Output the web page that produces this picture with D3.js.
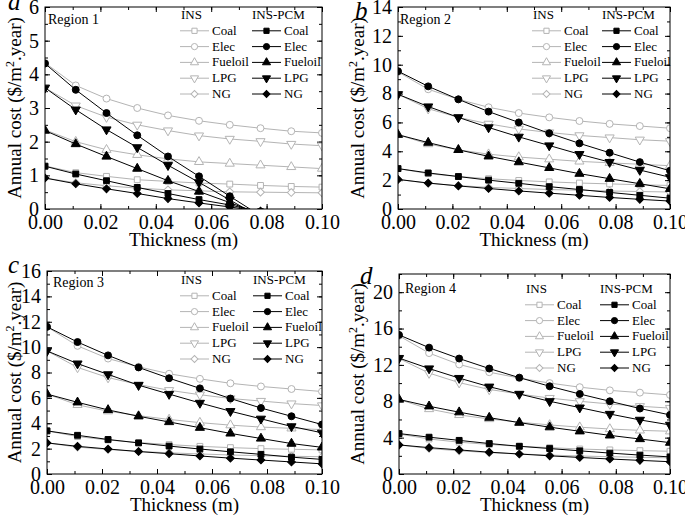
<!DOCTYPE html>
<html>
<head>
<meta charset="utf-8">
<script src="https://cdn.jsdelivr.net/npm/d3@7"></script>
<style>
body { margin: 0; background: #fff; }
text { font-family: "Liberation Serif", "Times New Roman", serif; }
</style>
</head>
<body>
<div id="chart"></div>
<script>
// thickness (m)
var xs = [0, 0.0111, 0.0222, 0.0333, 0.0444, 0.0556, 0.0667, 0.0778, 0.0889, 0.1];
var fuels = ["Coal", "Elec", "Fueloil", "LPG", "NG"];
var xTicks = [0, 0.02, 0.04, 0.06, 0.08, 0.10];

// each list is in the order of fuels: Coal, Elec, Fueloil, LPG, NG
var r1Ins = [
  [1.28, 1.08, 0.97, 0.87, 0.82, 0.77, 0.74, 0.70, 0.67, 0.65],
  [4.34, 3.67, 3.28, 3.00, 2.78, 2.62, 2.50, 2.40, 2.31, 2.26],
  [2.35, 2.00, 1.76, 1.61, 1.49, 1.40, 1.35, 1.30, 1.25, 1.20],
  [3.60, 3.07, 2.73, 2.50, 2.33, 2.18, 2.08, 2.01, 1.93, 1.88],
  [0.92, 0.78, 0.69, 0.62, 0.57, 0.54, 0.51, 0.50, 0.49, 0.48]
];
var r1Pcm = [
  [1.27, 1.04, 0.84, 0.64, 0.46, 0.28, 0.12, -0.08, -0.25, -0.42],
  [4.32, 3.54, 2.85, 2.19, 1.56, 0.97, 0.38, -0.20, -0.78, -1.35],
  [2.33, 1.93, 1.56, 1.20, 0.84, 0.52, 0.19, -0.15, -0.48, -0.80],
  [3.60, 2.95, 2.36, 1.83, 1.30, 0.79, 0.27, -0.25, -0.75, -1.25],
  [0.92, 0.75, 0.60, 0.46, 0.31, 0.18, 0.06, -0.06, -0.19, -0.32]
];
var r2Ins = [
  [2.80, 2.45, 2.25, 2.10, 1.98, 1.88, 1.80, 1.74, 1.68, 1.63],
  [9.50, 8.30, 7.60, 7.05, 6.65, 6.35, 6.10, 5.90, 5.75, 5.60],
  [5.15, 4.50, 4.10, 3.80, 3.60, 3.45, 3.30, 3.20, 3.10, 3.00],
  [7.95, 6.95, 6.35, 5.90, 5.55, 5.30, 5.10, 4.95, 4.80, 4.70],
  [2.05, 1.78, 1.62, 1.50, 1.42, 1.35, 1.30, 1.25, 1.21, 1.18]
];
var r2Pcm = [
  [2.80, 2.50, 2.25, 2.00, 1.78, 1.55, 1.35, 1.15, 0.95, 0.75],
  [9.55, 8.50, 7.60, 6.75, 6.00, 5.25, 4.55, 3.90, 3.25, 2.65],
  [5.15, 4.60, 4.10, 3.65, 3.25, 2.85, 2.45, 2.10, 1.75, 1.40],
  [7.95, 7.10, 6.35, 5.65, 5.00, 4.40, 3.80, 3.25, 2.70, 2.20],
  [2.05, 1.80, 1.60, 1.42, 1.25, 1.10, 0.95, 0.80, 0.67, 0.55]
];
var r3Ins = [
  [3.40, 2.95, 2.68, 2.48, 2.32, 2.18, 2.08, 2.00, 1.95, 1.90],
  [11.60, 10.10, 9.10, 8.45, 7.90, 7.50, 7.15, 6.90, 6.70, 6.50],
  [6.30, 5.45, 4.95, 4.60, 4.30, 4.05, 3.85, 3.70, 3.60, 3.50],
  [9.70, 8.40, 7.60, 7.05, 6.60, 6.25, 5.95, 5.75, 5.55, 5.40],
  [2.45, 2.12, 1.93, 1.78, 1.67, 1.58, 1.50, 1.44, 1.40, 1.36]
];
var r3Pcm = [
  [3.40, 3.05, 2.72, 2.45, 2.20, 1.97, 1.75, 1.55, 1.33, 1.15],
  [11.60, 10.40, 9.35, 8.40, 7.55, 6.75, 5.95, 5.20, 4.55, 3.90],
  [6.30, 5.65, 5.05, 4.55, 4.10, 3.65, 3.20, 2.80, 2.40, 2.10],
  [9.70, 8.70, 7.85, 7.00, 6.30, 5.60, 4.95, 4.35, 3.75, 3.25],
  [2.45, 2.18, 1.97, 1.77, 1.60, 1.42, 1.25, 1.10, 0.95, 0.80]
];
var r4Ins = [
  [4.40, 3.85, 3.50, 3.25, 3.05, 2.90, 2.75, 2.65, 2.57, 2.50],
  [15.20, 13.30, 12.05, 11.20, 10.55, 10.00, 9.55, 9.20, 8.95, 8.70],
  [8.20, 7.15, 6.50, 6.05, 5.70, 5.40, 5.15, 4.95, 4.80, 4.70],
  [12.70, 11.10, 10.05, 9.30, 8.80, 8.35, 8.00, 7.70, 7.45, 7.25],
  [3.20, 2.80, 2.55, 2.35, 2.20, 2.08, 1.98, 1.90, 1.84, 1.78]
];
var r4Pcm = [
  [4.45, 4.05, 3.70, 3.35, 3.05, 2.80, 2.55, 2.30, 2.08, 1.88],
  [15.30, 13.90, 12.70, 11.60, 10.60, 9.65, 8.80, 8.00, 7.20, 6.50],
  [8.20, 7.45, 6.80, 6.20, 5.65, 5.15, 4.70, 4.25, 3.85, 3.45],
  [12.75, 11.60, 10.55, 9.60, 8.80, 8.00, 7.30, 6.60, 5.95, 5.40],
  [3.20, 2.90, 2.65, 2.40, 2.20, 2.00, 1.82, 1.65, 1.50, 1.35]
];

var yTicks1 = [0, 1, 2, 3, 4, 5, 6];
var yTicks2 = [0, 2, 4, 6, 8, 10, 12, 14];
var yTicks3 = [0, 2, 4, 6, 8, 10, 12, 14, 16];
var yTicks4 = [0, 4, 8, 12, 16, 20];

var panels = [
  {letter: "a", region: "Region 1", ins: r1Ins, pcm: r1Pcm, ticks: yTicks1, ymax: 6, minor: 0.5,
   l: 45, r: 322, t: 7, b: 209, lx: 8, ly: 10, tx: 15, rgx: 48, rgy: 24,
   legX: 180, legX2: 252, legY: 19},
  {letter: "b", region: "Region 2", ins: r2Ins, pcm: r2Pcm, ticks: yTicks2, ymax: 14, minor: 1,
   l: 398, r: 670, t: 7, b: 209, lx: 355, ly: 19, tx: 358, rgx: 400, rgy: 24,
   legX: 532, legX2: 602, legY: 19},
  {letter: "c", region: "Region 3", ins: r3Ins, pcm: r3Pcm, ticks: yTicks3, ymax: 16, minor: 1,
   l: 47, r: 322, t: 271, b: 474, lx: 8, ly: 273, tx: 15, rgx: 53, rgy: 287,
   legX: 180, legX2: 253, legY: 284},
  {letter: "d", region: "Region 4", ins: r4Ins, pcm: r4Pcm, ticks: yTicks4, ymax: 22, minor: 2,
   l: 399, r: 670, t: 274, b: 474, lx: 360, ly: 284, tx: 358, rgx: 405, rgy: 293,
   legX: 525, legX2: 600, legY: 293}
];

var grey = "#b4b4b4";
var shapes = [
  {sym: d3.symbolSquare, size: 34, rot: 0},
  {sym: d3.symbolCircle, size: 38, rot: 0},
  {sym: d3.symbolTriangle, size: 36, rot: 0},
  {sym: d3.symbolTriangle, size: 36, rot: 180},
  {sym: d3.symbolSquare, size: 30, rot: 45}
];

var svg = d3.select("#chart").append("svg")
  .attr("width", 685).attr("height", 516);

panels.forEach(function (p, pi) {
  var x = d3.scaleLinear().domain([0, 0.1]).range([p.l, p.r]);
  var y = d3.scaleLinear().domain([0, p.ymax]).range([p.b, p.t]);
  var g = svg.append("g");

  var clipId = "clip" + pi;
  svg.append("clipPath").attr("id", clipId).append("rect")
    .attr("x", p.l).attr("y", p.t).attr("width", p.r - p.l).attr("height", p.b - p.t);

  var minorX = d3.range(0, 0.1001, 0.01);
  var minorY = d3.range(0, p.ymax + 0.001, p.minor);

  function styleAxis(sel, labels) {
    sel.select(".domain").remove();
    sel.selectAll("line").attr("stroke", "#000");
    sel.selectAll("text").attr("font-family", "Liberation Serif").attr("font-size", 20)
      .attr("fill", "#000");
    if (!labels) sel.selectAll("text").remove();
  }

  // major + minor ticks on all four sides, pointing inward
  g.append("g").attr("transform", "translate(0," + p.b + ")")
    .call(d3.axisBottom(x).tickValues(xTicks).tickSize(-5).tickPadding(6).tickFormat(d3.format(".2f")))
    .call(styleAxis, true);
  g.append("g").attr("transform", "translate(0," + p.b + ")")
    .call(d3.axisBottom(x).tickValues(minorX).tickSize(-3).tickFormat(""))
    .call(styleAxis, false);
  g.append("g").attr("transform", "translate(0," + p.t + ")")
    .call(d3.axisTop(x).tickValues(xTicks).tickSize(-5).tickFormat(""))
    .call(styleAxis, false);
  g.append("g").attr("transform", "translate(0," + p.t + ")")
    .call(d3.axisTop(x).tickValues(minorX).tickSize(-3).tickFormat(""))
    .call(styleAxis, false);
  g.append("g").attr("transform", "translate(" + p.l + ",0)")
    .call(d3.axisLeft(y).tickValues(p.ticks).tickSize(-5).tickPadding(6).tickFormat(d3.format("d")))
    .call(styleAxis, true);
  g.append("g").attr("transform", "translate(" + p.l + ",0)")
    .call(d3.axisLeft(y).tickValues(minorY).tickSize(-3).tickFormat(""))
    .call(styleAxis, false);
  g.append("g").attr("transform", "translate(" + p.r + ",0)")
    .call(d3.axisRight(y).tickValues(p.ticks).tickSize(-5).tickFormat(""))
    .call(styleAxis, false);
  g.append("g").attr("transform", "translate(" + p.r + ",0)")
    .call(d3.axisRight(y).tickValues(minorY).tickSize(-3).tickFormat(""))
    .call(styleAxis, false);

  // series
  var plot = g.append("g").attr("clip-path", "url(#" + clipId + ")");
  var line = d3.line().x(function (d, i) { return x(xs[i]); }).y(function (d) { return y(d); });

  [[p.ins, grey, "#fff"], [p.pcm, "#000", "#000"]].forEach(function (grp) {
    grp[0].forEach(function (vals, k) {
      plot.append("path").attr("d", line(vals))
        .attr("fill", "none").attr("stroke", grp[1]).attr("stroke-width", 1);
    });
    grp[0].forEach(function (vals, k) {
      var sh = shapes[k];
      plot.selectAll(null).data(vals).enter().append("path")
        .attr("d", d3.symbol().type(sh.sym).size(sh.size))
        .attr("transform", function (d, i) {
          return "translate(" + x(xs[i]) + "," + y(d) + ") rotate(" + sh.rot + ")";
        })
        .attr("fill", grp[2]).attr("stroke", grp[1]).attr("stroke-width", 1);
    });
  });

  // frame
  g.append("rect").attr("x", p.l).attr("y", p.t)
    .attr("width", p.r - p.l).attr("height", p.b - p.t)
    .attr("fill", "none").attr("stroke", "#000").attr("stroke-width", 1);

  // axis titles
  g.append("text").attr("x", (p.l + p.r) / 2).attr("y", p.b + 37)
    .attr("text-anchor", "middle").attr("font-size", 19).text("Thickness (m)");
  var yt = g.append("text")
    .attr("transform", "translate(" + (p.tx + 6) + "," + ((p.t + p.b) / 2) + ") rotate(-90)")
    .attr("text-anchor", "middle").attr("font-size", 19);
  yt.append("tspan").text("Annual cost ($/m");
  yt.append("tspan").attr("font-size", 12).attr("dy", -7).text("2");
  yt.append("tspan").attr("dy", 7).text(".year)");

  // panel letter and region
  g.append("text").attr("x", p.lx).attr("y", p.ly).attr("font-size", 25)
    .attr("font-style", "italic").text(p.letter);
  g.append("text").attr("x", p.rgx).attr("y", p.rgy).attr("font-size", 14).text(p.region);

  // legend
  g.append("text").attr("x", p.legX + 1).attr("y", p.legY).attr("font-size", 13).text("INS");
  g.append("text").attr("x", p.legX2).attr("y", p.legY).attr("font-size", 13).text("INS-PCM");
  fuels.forEach(function (f, k) {
    var yy = p.legY + 15.8 * (k + 1);
    [[p.legX, grey, "#fff"], [p.legX2, "#000", "#000"]].forEach(function (c) {
      g.append("line").attr("x1", c[0]).attr("x2", c[0] + 29)
        .attr("y1", yy - 4).attr("y2", yy - 4)
        .attr("stroke", c[1]).attr("stroke-width", 1);
      g.append("path").attr("d", d3.symbol().type(shapes[k].sym).size(shapes[k].size * 0.8))
        .attr("transform", "translate(" + (c[0] + 14.5) + "," + (yy - 4) + ") rotate(" + shapes[k].rot + ")")
        .attr("fill", c[2]).attr("stroke", c[1]);
      g.append("text").attr("x", c[0] + 32).attr("y", yy).attr("font-size", 13).text(f);
    });
  });
});
</script>
</body>
</html>
